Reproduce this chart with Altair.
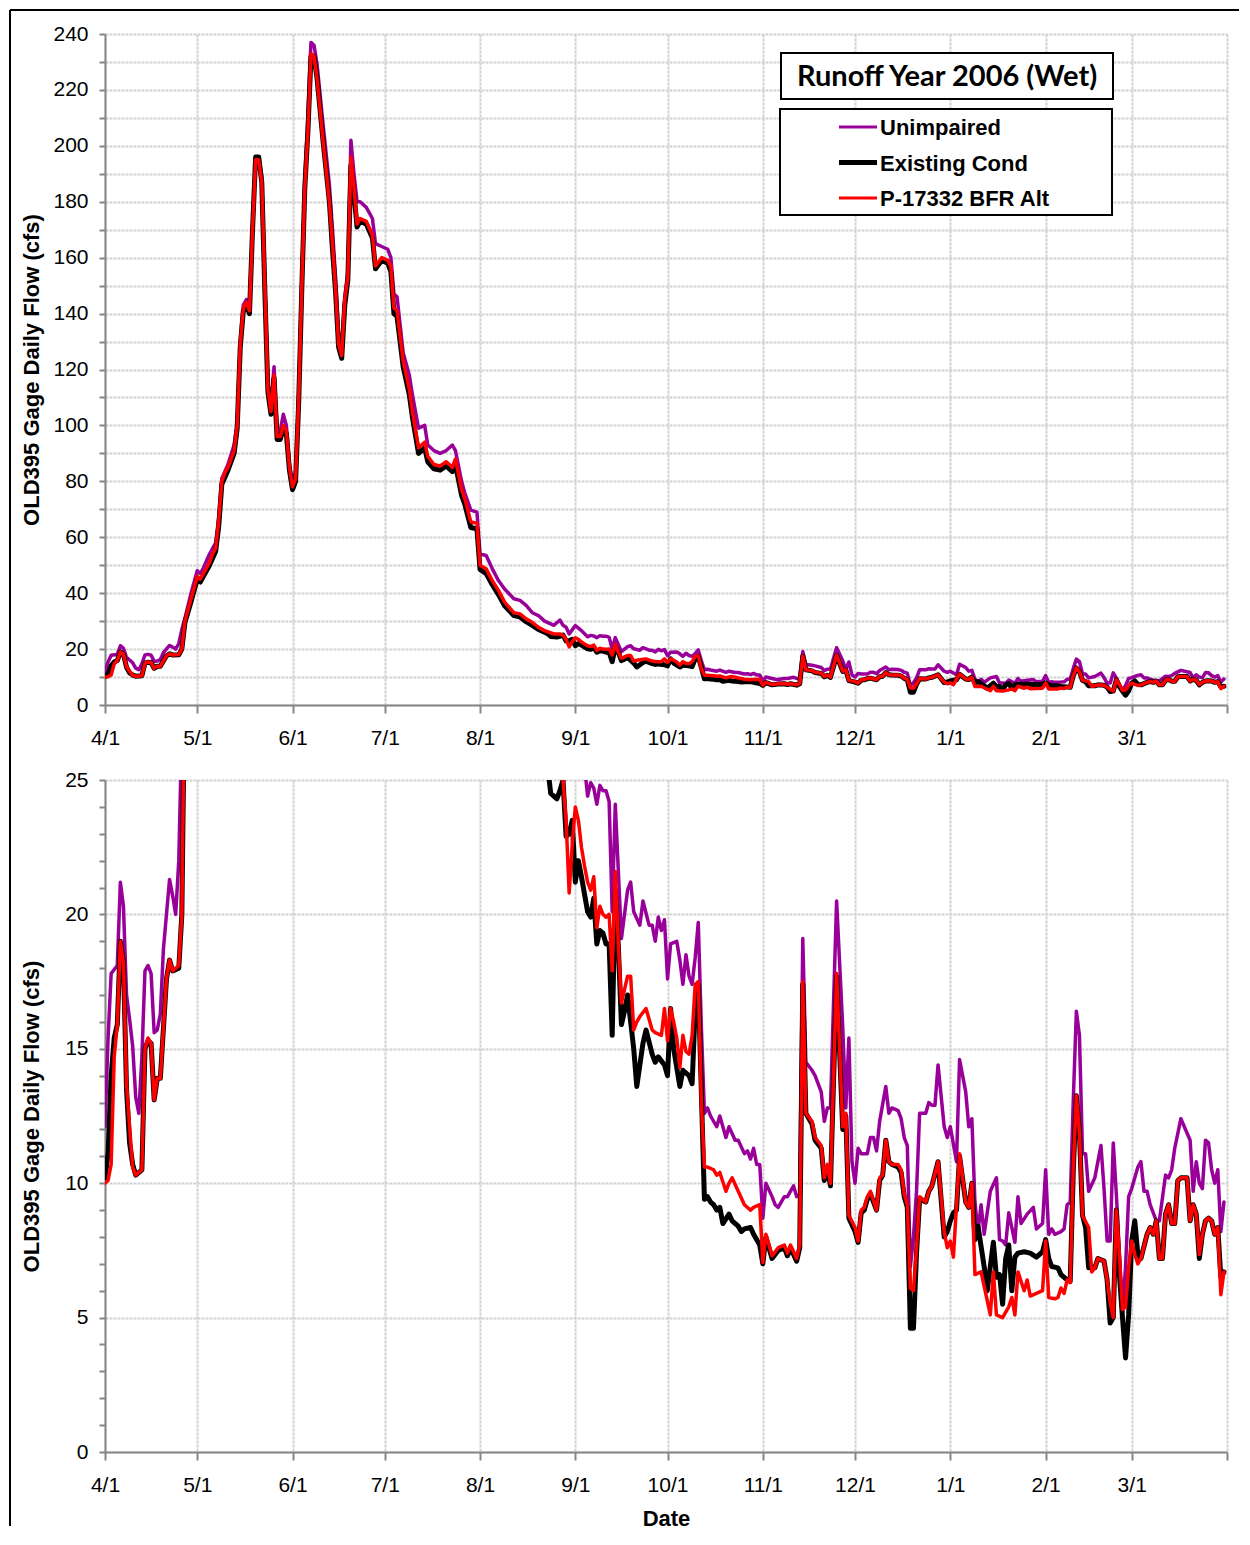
import altair as alt
import pandas as pd

START = pd.Timestamp("2006-04-01")
SERIES = ["Unimpaired", "Existing Cond", "P-17332 BFR Alt"]
COLORS = ["#990099", "#000000", "#ff0000"]
LINE_W = [3.5, 5.0, 3.5]
TITLE = "Runoff Year 2006 (Wet)"
Y_TITLE = "OLD395 Gage Daily Flow (cfs)"
X_TITLE = "Date"

# (day offset from 4/1/2006, daily flow cfs)
unimpaired = [
    (0, 12.1), (1, 15.4), (2, 17.8), (4, 18.1), (5, 21.2), (6, 20.3), (7, 17.0), (8, 16.1), (9, 15.1),
    (10, 13.2), (11, 12.6), (12, 14.7), (13, 17.9), (14, 18.1), (15, 17.8), (16, 15.6), (17, 15.7),
    (18, 16.3), (19, 18.7), (21, 21.3), (22, 20.7), (23, 20.0), (24, 22.0), (25, 27), (26, 31), (28, 40),
    (30, 48), (31, 47), (32, 49), (34, 54), (36, 58), (37, 67), (38, 81), (40, 86), (42, 93), (43, 101),
    (44, 130), (45, 143), (46, 145), (47, 142), (48, 171), (49, 196), (50, 196), (51, 189), (52, 152),
    (53, 115), (54, 108), (55, 121), (56, 98), (57, 98), (58, 104), (59, 100), (60, 86), (61, 80),
    (62, 83), (63, 111), (64, 151), (65, 188), (66, 210), (67, 237), (68, 236), (69, 229), (71, 207),
    (73, 186), (74, 170), (75, 153), (76, 132), (77, 127), (78, 146), (79, 155), (80, 202), (81, 190),
    (82, 180), (83, 180), (85, 178), (87, 174), (88, 165), (90, 164), (92, 163), (93, 160), (94, 147),
    (95, 146), (97, 126), (99, 118), (100, 111), (102, 99), (104, 100), (105, 93), (107, 91), (109, 90),
    (111, 91), (113, 93), (114, 91), (116, 80), (117, 76), (119, 69.7), (121, 69), (122, 54),
    (124, 53.5), (126, 48.7), (128, 44.5), (130, 41.5), (133, 38), (135, 37.4), (137, 35.6), (139, 33),
    (141, 32), (143, 30), (145, 29), (146, 28.5), (148, 30.4), (149, 28.5), (150, 27.8), (151, 25.4),
    (153, 28.4), (155, 26.6), (156, 25.5), (157, 24.4), (158, 24.9), (159, 24.7), (160, 24.1),
    (161, 24.8), (162, 24.6), (163, 24.6), (164, 24.2), (165, 20.1), (166, 24.1), (167, 21.6),
    (168, 19.1), (170, 20.9), (171, 21.2), (172, 20.1), (174, 19.6), (175, 20.5), (177, 19.6),
    (178, 19.6), (179, 19.0), (180, 19.9), (181, 19.4), (182, 19.8), (183, 17.6), (184, 18.9),
    (186, 19.0), (187, 18.3), (188, 17.4), (189, 18.5), (190, 17.7), (191, 17.4), (192, 18.4),
    (193, 19.7), (194, 15.8), (195, 12.6), (196, 12.8), (197, 12.5), (199, 12.1), (200, 12.5),
    (202, 11.7), (203, 12.1), (205, 11.6), (206, 11.6), (208, 11.1), (209, 11.2), (210, 10.9),
    (211, 11.3), (212, 10.7), (213, 10.7), (214, 8.7), (215, 10.0), (217, 9.5), (218, 9.2), (219, 9.1),
    (221, 9.5), (222, 9.5), (224, 9.9), (225, 9.5), (226, 9.6), (227, 19.1), (228, 14.5), (230, 14.2),
    (231, 14.0), (233, 13.4), (234, 12.3), (235, 12.8), (236, 12.8), (237, 16.7), (238, 20.5),
    (240, 15.8), (241, 12.8), (242, 15.4), (243, 10.8), (244, 10.0), (245, 11.3), (246, 11.1),
    (248, 11.1), (249, 11.7), (250, 11.7), (251, 11.2), (252, 12.3), (254, 13.6), (255, 12.6),
    (256, 12.8), (258, 12.7), (259, 12.4), (260, 11.7), (261, 11.4), (262, 6.9), (263, 8.0), (264, 9.7),
    (265, 12.6), (267, 12.6), (268, 13.0), (269, 12.9), (270, 12.9), (271, 14.4), (273, 12.1),
    (274, 11.7), (275, 12.1), (277, 10.8), (278, 14.6), (280, 13.4), (281, 12.1), (282, 12.4),
    (283, 9.3), (284, 8.2), (285, 9.2), (286, 8.1), (288, 9.7), (290, 10.2), (291, 7.9), (292, 7.85),
    (293, 7.7), (294, 8.9), (296, 7.8), (297, 9.5), (298, 8.5), (300, 8.85), (302, 9.1), (303, 8.3),
    (305, 8.5), (306, 10.5), (307, 8.1), (308, 8.3), (309, 8.1), (311, 8.2), (312, 8.3), (313, 9.2),
    (314, 9.3), (315, 13.1), (316, 16.4), (317, 15.5), (318, 11.1), (319, 11.1), (320, 9.7),
    (322, 10.2), (323, 10.8), (324, 11.4), (325, 9.8), (326, 7.85), (327, 7.85), (328, 11.5),
    (329, 9.6), (331, 5.1), (332, 6.9), (333, 9.5), (334, 9.8), (335, 10.2), (336, 10.6), (337, 10.8),
    (338, 9.7), (339, 9.7), (340, 9.2), (342, 8.6), (343, 8.6), (345, 10.3), (346, 10.2), (347, 10.5),
    (348, 11.3), (350, 12.4), (353, 11.6), (354, 9.7), (355, 10.8), (356, 10.0), (357, 9.8),
    (358, 11.6), (359, 11.5), (360, 10.5), (361, 10.0), (362, 10.5), (363, 8.2), (364, 9.3),
]

existing = [
    (0, 10.2), (1, 11.1), (2, 14.0), (3, 15.4), (4, 15.9), (5, 19.0), (6, 18.2), (7, 13.5), (8, 11.5),
    (9, 10.7), (10, 10.3), (12, 10.5), (13, 15.0), (14, 15.3), (15, 15.2), (16, 13.1), (17, 13.9),
    (18, 13.9), (20, 17.6), (21, 18.3), (22, 17.9), (24, 18.0), (25, 20.0), (26, 29.5), (28, 37),
    (30, 45), (31, 44), (32, 46), (34, 50), (36, 55), (37, 64), (38, 79), (40, 84), (42, 90), (43, 99),
    (44, 128), (45, 141), (46, 143), (47, 140), (48, 170), (49, 196), (50, 196), (51, 187), (52, 148),
    (53, 112), (54, 104), (55, 117), (56, 95), (57, 95), (58, 99), (59, 97), (60, 84), (61, 77),
    (62, 80), (63, 108), (64, 148), (65, 185), (66, 205), (67, 232), (68, 232), (69, 224), (71, 201),
    (73, 180), (74, 163), (75, 148), (76, 128), (77, 124), (78, 143), (79, 152), (80, 193), (81, 183),
    (82, 171), (83, 173), (85, 172), (87, 167), (88, 156), (90, 159), (92, 158), (93, 155), (94, 140),
    (95, 139), (97, 121), (99, 111), (100, 103), (102, 90), (104, 92), (105, 87), (107, 84.5),
    (109, 84), (111, 85.5), (113, 83.5), (114, 86), (116, 75), (117, 72), (119, 63.5), (121, 63),
    (122, 48.5), (124, 47), (126, 43), (128, 39.5), (130, 35.5), (133, 32), (135, 31.5), (137, 29.8),
    (139, 28.5), (141, 27), (143, 26), (144, 25.5), (145, 24.5), (146, 24.4), (147, 24.3), (148, 24.6),
    (149, 25.0), (150, 22.9), (151, 23.0), (152, 23.5), (153, 21.2), (154, 22.0), (155, 21.4),
    (157, 20.1), (158, 19.9), (159, 20.6), (160, 18.9), (161, 19.4), (162, 19.3), (163, 18.9),
    (164, 18.9), (165, 15.5), (166, 20.9), (167, 18.8), (168, 15.9), (169, 16.4), (170, 17.0),
    (172, 15.0), (173, 13.6), (175, 15.2), (176, 15.7), (178, 14.8), (179, 14.5), (180, 14.7),
    (182, 14.4), (183, 14.0), (184, 16.5), (185, 15.0), (187, 13.6), (188, 14.2), (190, 14.0),
    (191, 13.7), (192, 16.5), (193, 17.4), (194, 13.4), (195, 9.4), (196, 9.5), (197, 9.3), (198, 9.2),
    (199, 9.0), (200, 9.1), (201, 8.5), (203, 8.85), (204, 8.6), (206, 8.4), (207, 8.2), (208, 8.3),
    (210, 8.35), (211, 8.1), (213, 7.7), (214, 7.0), (215, 8.0), (217, 7.2), (219, 7.5), (221, 7.6),
    (222, 7.3), (223, 7.6), (225, 7.1), (226, 7.6), (227, 17.4), (228, 12.6), (230, 12.2), (231, 11.6),
    (233, 11.3), (234, 10.1), (235, 10.6), (236, 9.9), (238, 17.7), (240, 12.0), (241, 12.5),
    (242, 8.7), (244, 8.2), (245, 7.8), (246, 8.9), (247, 9.0), (248, 9.4), (249, 9.6), (251, 9.0),
    (252, 10.1), (253, 10.3), (254, 11.6), (255, 10.8), (256, 10.7), (258, 10.6), (259, 10.4),
    (260, 9.5), (261, 9.1), (262, 4.6), (263, 4.6), (264, 7.4), (265, 9.4), (267, 9.3), (268, 9.7),
    (269, 9.9), (271, 10.8), (273, 8.0), (274, 8.2), (275, 8.6), (276, 8.9), (277, 9.0), (278, 11.0),
    (280, 9.3), (281, 9.1), (282, 10.0), (283, 7.9), (284, 8.4), (286, 6.9), (287, 6.0), (289, 7.8),
    (290, 6.5), (291, 6.6), (292, 5.5), (293, 7.2), (294, 7.7), (295, 6.0), (296, 7.25), (297, 7.4),
    (299, 7.45), (301, 7.4), (303, 7.25), (305, 7.45), (306, 7.9), (307, 7.2), (308, 6.9), (310, 6.85),
    (311, 6.6), (313, 6.4), (314, 6.35), (315, 10.5), (316, 13.25), (317, 11.9), (318, 8.8),
    (319, 8.35), (320, 6.85), (322, 6.85), (323, 7.2), (325, 7.1), (326, 6.4), (327, 4.8), (328, 5.0),
    (329, 9.0), (330, 6.6), (331, 5.0), (332, 3.5), (333, 5.1), (334, 7.85), (335, 8.6), (336, 7.35),
    (337, 7.2), (339, 8.1), (340, 8.35), (341, 8.1), (342, 8.6), (343, 7.2), (344, 7.2), (345, 8.85),
    (346, 9.2), (347, 8.5), (348, 8.5), (349, 10.1), (350, 10.2), (352, 10.2), (353, 8.6), (354, 9.2),
    (355, 8.85), (356, 7.2), (357, 8.1), (358, 8.6), (359, 8.7), (360, 8.6), (361, 8.1), (362, 8.35),
    (363, 6.5), (364, 6.7),
]

bfr_alt = [
    (0, 10.0), (1, 10.1), (2, 10.7), (3, 14.7), (4, 15.9), (5, 19.0), (6, 18.2), (7, 13.7), (8, 12.1),
    (9, 10.6), (10, 10.3), (12, 10.5), (13, 15.0), (14, 15.4), (15, 15.2), (16, 13.1), (17, 13.9),
    (18, 13.9), (20, 17.6), (21, 18.3), (22, 17.9), (24, 18.1), (25, 20.0), (26, 30), (27, 34),
    (28, 38), (29, 42), (30, 46), (31, 45), (32, 47), (33, 49), (34, 51), (35, 54), (36, 56), (37, 66),
    (38, 80), (39, 83), (40, 85), (42, 91), (43, 100), (44, 129), (45, 142), (46, 144), (47, 141),
    (48, 170), (49, 195), (50, 195), (51, 187), (52, 150), (53, 113), (54, 105), (55, 118), (56, 96),
    (57, 96), (58, 100), (59, 98), (60, 85), (61, 78), (62, 81), (63, 109), (64, 149), (65, 185),
    (66, 205), (67, 233), (68, 232), (69, 224), (71, 201), (73, 180), (74, 165), (75, 149), (76, 129),
    (77, 125), (78, 145), (79, 153), (80, 196), (81, 185), (82, 172), (83, 174), (85, 173), (87, 168),
    (88, 157), (90, 160), (92, 159), (93, 157), (94, 142), (95, 141), (97, 123), (99, 113), (100, 105),
    (102, 92), (104, 94), (105, 89), (107, 86), (109, 85.5), (111, 87), (113, 85), (114, 88), (116, 77),
    (117, 74), (119, 65.5), (121, 65), (122, 50), (124, 48.7), (126, 44.5), (128, 41), (130, 36.8),
    (133, 33), (135, 32.6), (137, 30.8), (139, 29.6), (141, 27.8), (143, 26.6), (146, 25.4),
    (148, 25.4), (149, 25.0), (150, 23.5), (151, 20.8), (152, 22.6), (153, 24.0), (154, 23.5),
    (155, 22.5), (156, 21.8), (157, 21.2), (158, 20.9), (159, 21.4), (160, 19.5), (161, 20.3),
    (162, 20.0), (163, 19.9), (164, 20.0), (165, 17.9), (166, 21.6), (167, 18.9), (168, 16.7),
    (169, 17.2), (170, 17.7), (171, 17.7), (172, 15.7), (173, 16.0), (174, 16.2), (176, 16.5),
    (178, 15.7), (179, 15.6), (181, 15.5), (182, 16.5), (183, 15.3), (184, 16.5), (185, 16.0),
    (186, 15.4), (187, 14.3), (188, 15.5), (189, 14.9), (190, 14.8), (191, 15.5), (192, 17.4),
    (193, 17.5), (194, 13.0), (195, 10.6), (196, 10.6), (198, 10.5), (199, 10.3), (200, 10.4),
    (202, 9.7), (203, 10.0), (204, 10.2), (206, 9.7), (208, 9.2), (210, 9.0), (211, 9.1), (213, 9.2),
    (214, 7.05), (215, 8.1), (217, 7.3), (219, 7.6), (221, 7.7), (222, 7.4), (223, 7.7), (225, 7.2),
    (226, 7.7), (227, 17.5), (228, 12.6), (230, 12.3), (231, 11.7), (233, 11.4), (234, 10.2),
    (235, 10.7), (236, 10.0), (238, 17.8), (240, 12.1), (241, 12.6), (242, 8.8), (244, 8.35),
    (245, 7.85), (246, 9.0), (247, 9.1), (248, 9.5), (249, 9.7), (251, 9.0), (252, 10.2), (253, 10.3),
    (254, 11.6), (255, 10.8), (256, 10.7), (258, 10.7), (259, 10.5), (260, 9.6), (261, 9.2), (262, 6.1),
    (263, 6.0), (264, 7.6), (265, 9.5), (267, 9.3), (268, 9.7), (269, 9.9), (271, 10.8), (273, 8.2),
    (274, 7.6), (275, 7.85), (276, 7.25), (278, 11.1), (280, 9.3), (281, 9.1), (282, 10.0), (283, 6.6),
    (285, 6.7), (288, 5.1), (289, 6.7), (290, 5.1), (292, 5.0), (294, 5.4), (295, 5.75), (296, 5.1),
    (297, 6.7), (299, 6.0), (300, 6.4), (301, 5.8), (303, 5.9), (305, 6.0), (306, 7.85), (307, 5.75),
    (309, 5.7), (310, 5.75), (311, 6.1), (312, 5.9), (313, 6.4), (314, 6.3), (315, 10.6), (316, 13.25),
    (317, 11.9), (318, 8.8), (320, 8.35), (321, 6.7), (322, 6.85), (323, 7.2), (325, 7.1), (326, 6.4),
    (327, 5.55), (328, 5.0), (329, 9.0), (330, 7.35), (331, 5.3), (332, 5.4), (333, 6.9), (334, 7.85),
    (335, 7.35), (336, 7.0), (337, 7.2), (339, 8.1), (340, 8.35), (341, 8.1), (342, 8.6), (343, 7.2),
    (344, 7.2), (345, 8.85), (346, 9.2), (347, 8.5), (348, 8.5), (349, 10.1), (350, 10.2), (352, 10.2),
    (353, 8.6), (354, 9.2), (355, 8.85), (356, 7.35), (357, 8.1), (358, 8.6), (359, 8.7), (360, 8.6),
    (361, 8.1), (362, 8.35), (363, 5.85), (364, 6.7),
]

rows = []
for name, pts in zip(SERIES, [unimpaired, existing, bfr_alt]):
    for d, v in pts:
        rows.append({"date": START + pd.Timedelta(days=d), "flow": v, "series": name})
df = pd.DataFrame(rows)

MONTHS = [(2006, m) for m in range(4, 13)] + [(2007, m) for m in range(1, 5)]
tick_dates = [alt.DateTime(year=y, month=m, date=1) for y, m in MONTHS]
x_domain = [tick_dates[0], tick_dates[-1]]

W = 1122
H_TOP = 671
H_BOT = 672


def x_enc(title):
    kw = dict(
        values=tick_dates,
        format="%-m/%-d",
        labelExpr="datum.value >= datetime(2007, 3, 1) ? '' : datum.label",
        tickSize=8,
        labelPadding=14,
        labelFlush=False,
        labelOverlap=False,
        title=title,
    )
    if title:
        kw["titleY"] = 56
    return alt.X("date:T", scale=alt.Scale(domain=x_domain), axis=alt.Axis(**kw))


def y_enc(ymax, step, label_step, grid_step, height):
    return alt.Y(
        "flow:Q",
        scale=alt.Scale(domain=[0, ymax], nice=False, zero=True),
        axis=alt.Axis(
            values=list(range(0, ymax + 1, step)),
            labelExpr=f"datum.value % {label_step} === 0 ? datum.label : ''",
            gridOpacity={"condition": {"test": f"datum.value % {grid_step} === 0", "value": 1}, "value": 0},
            tickSize=6,
            labelPadding=11,
            labelFlush=False,
            labelOverlap=False,
            title=Y_TITLE,
            titleX=-62,
            titleY=height / 2,
        ),
    )


def line_layers(ymax, step, label_step, grid_step, height, xtitle):
    layers = []
    for name, col, lw in zip(SERIES, COLORS, LINE_W):
        layers.append(
            alt.Chart(df)
            .transform_filter(alt.datum.series == name)
            .mark_line(color=col, strokeWidth=lw, clip=True, strokeJoin="round", strokeCap="round")
            .encode(x=x_enc(xtitle), y=y_enc(ymax, step, label_step, grid_step, height))
        )
    return layers


one = pd.DataFrame({"k": [0]})

# outer frame (left and top edges)
frame_left = alt.Chart(one).mark_rule(color="black", strokeWidth=2).encode(
    x=alt.value(-95), y=alt.value(-24), y2=alt.value(1492)
)
frame_top = alt.Chart(one).mark_rule(color="black", strokeWidth=2).encode(
    x=alt.value(-95), x2=alt.value(1134), y=alt.value(-24)
)

# title box
title_box = alt.Chart(one).mark_rect(fill="white", stroke="black", strokeWidth=2).encode(
    x=alt.value(676), x2=alt.value(1008), y=alt.value(19), y2=alt.value(65)
)
title_text = alt.Chart(pd.DataFrame({"t": [TITLE]})).mark_text(
    font="Lato", fontSize=29, fontWeight="bold", align="center", baseline="middle", color="black"
).encode(x=alt.value(842), y=alt.value(43), text="t:N")

# legend box
legend_box = alt.Chart(one).mark_rect(fill="white", stroke="black", strokeWidth=2).encode(
    x=alt.value(675), x2=alt.value(1007), y=alt.value(75), y2=alt.value(181)
)
legend_layers = [legend_box]
for i, (name, col, lw) in enumerate(zip(SERIES, COLORS, LINE_W)):
    yy = 93 + 35.5 * i
    legend_layers.append(
        alt.Chart(one).mark_rule(color=col, strokeWidth=lw if i == 1 else 3).encode(
            x=alt.value(734), x2=alt.value(772), y=alt.value(yy)
        )
    )
    legend_layers.append(
        alt.Chart(pd.DataFrame({"t": [name]})).mark_text(
            font="Liberation Sans", fontSize=22, fontWeight="bold", align="left", baseline="middle", color="black"
        ).encode(x=alt.value(775), y=alt.value(yy + 1), text="t:N")
    )

top = alt.layer(
    *line_layers(240, 10, 20, 10, H_TOP, None),
    frame_left, frame_top, title_box, title_text, *legend_layers,
).properties(width=W, height=H_TOP)

bottom = alt.layer(*line_layers(25, 1, 5, 5, H_BOT, X_TITLE)).properties(width=W, height=H_BOT)

chart = (
    alt.vconcat(top, bottom, spacing=75, bounds="flush")
    .properties(padding=0, background="white")
    .configure_view(stroke="transparent")
    .configure_axis(
        labelFont="Liberation Sans",
        labelFontSize=21,
        labelColor="black",
        titleFont="Liberation Sans",
        titleFontSize=22,
        titleFontWeight="bold",
        titleColor="black",
        domainColor="#878787",
        domainWidth=2,
        tickColor="#878787",
        tickWidth=2,
        gridColor="#d2d2d2",
        gridWidth=2,
        gridDash=[3, 1],
    )
)

chart.save("out.html", embed_options={"renderer": "svg", "actions": False})
